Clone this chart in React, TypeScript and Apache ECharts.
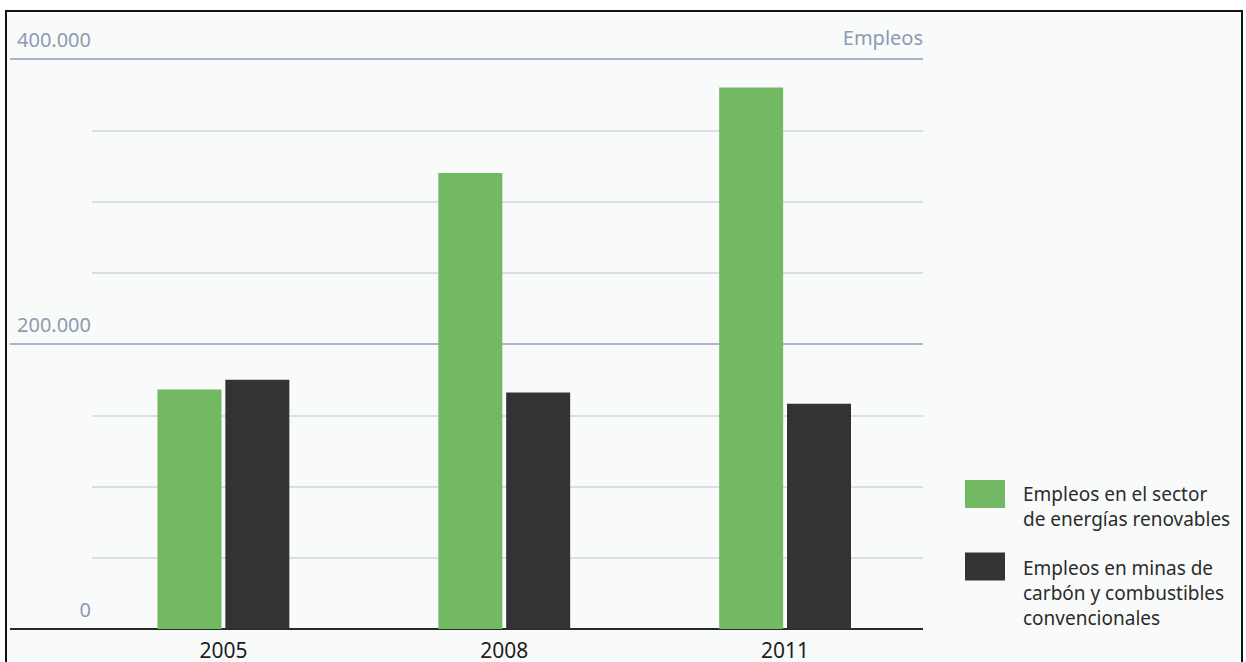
import React, { useEffect, useRef } from "react";
import * as echarts from "echarts";

const categories = ["2005", "2008", "2011"];
const renewableName = "Empleos en el sector\nde energías renovables";
const conventionalName = "Empleos en minas de\ncarbón y combustibles\nconvencionales";
const renewableJobs = [168000, 320000, 380000];
const conventionalJobs = [175000, 166000, 158000];
const yMin = 0;
const yMax = 400000;
const majorInterval = 200000;
const minorInterval = 50000;
const unitLabel = "Empleos";

const FONT = "'Noto Sans', 'Open Sans', sans-serif";

function fmt(v: number): string {
  return String(v).replace(/\B(?=(\d{3})+(?!\d))/g, ".");
}

function legendText(name: string, spacer: string): string {
  return "{" + spacer + "| }\n" + name.split("\n").map((l) => "{t|" + l + "}").join("\n");
}

const legendRich = {
  t: { fontSize: 19, lineHeight: 25, color: "#2b2b2b", fontFamily: FONT, padding: [0, 0, 0, 13] },
  s1: { fontSize: 10, lineHeight: 24 },
  s2: { fontSize: 10, lineHeight: 53 },
};

export default function App() {
  const ref = useRef<HTMLDivElement>(null);
  useEffect(() => {
    if (!ref.current) return;
    const chart = echarts.init(ref.current, null, { renderer: "svg" });
    const minorCount = (yMax - yMin) / minorInterval + 1;
    const minorColors: string[] = [];
    for (let i = 0; i < minorCount; i++) {
      const v = yMin + i * minorInterval;
      minorColors.push(v % majorInterval === 0 ? "rgba(0,0,0,0)" : "#cdd6e1");
    }
    const majorColors = ["#2a2a2a", "#a7b6ca", "#a7b6ca"];
    chart.setOption({
      animation: false,
      backgroundColor: "transparent",
      textStyle: { fontFamily: FONT },
      title: {
        text: unitLabel,
        right: 323,
        top: 25,
        padding: 0,
        textStyle: { fontSize: 20, fontWeight: "normal", color: "#8c9bb0", fontFamily: FONT, lineHeight: 24 },
      },
      grid: [
        { left: 83, right: 320.5, top: 59, bottom: 33 },
        { left: 10, right: 323, top: 59, bottom: 33 },
        { left: 92, right: 323, top: 59, bottom: 33 },
      ],
      xAxis: [
        {
          gridIndex: 0,
          type: "category",
          data: categories,
          axisLine: { show: false },
          axisTick: { show: false },
          axisLabel: { fontSize: 21, lineHeight: 21, color: "#1e1e1e", margin: 10, fontFamily: FONT },
        },
        { gridIndex: 1, type: "value", show: false, min: 0, max: 1 },
        { gridIndex: 2, type: "value", show: false, min: 0, max: 1 },
      ],
      yAxis: [
        { gridIndex: 0, type: "value", min: yMin, max: yMax, show: false },
        {
          gridIndex: 1,
          type: "value",
          min: yMin,
          max: yMax,
          interval: majorInterval,
          z: 1,
          axisLine: { show: false },
          axisTick: { show: false },
          splitLine: { show: true, lineStyle: { color: majorColors, width: 2 } },
          axisLabel: {
            inside: true,
            align: "right",
            margin: 81,
            verticalAlign: "bottom",
            lineHeight: 24,
            padding: [0, 0, 8, 0],
            fontSize: 20,
            color: "#8c9bb0",
            fontFamily: FONT,
            formatter: (v: number) => fmt(v),
          },
        },
        {
          gridIndex: 2,
          type: "value",
          min: yMin,
          max: yMax,
          interval: minorInterval,
          z: 0,
          axisLine: { show: false },
          axisTick: { show: false },
          axisLabel: { show: false },
          splitLine: { show: true, lineStyle: { color: minorColors, width: 1.5 } },
        },
      ],
      legend: [
        {
          data: [renewableName],
          orient: "vertical",
          left: 965,
          top: 464,
          padding: 0,
          itemWidth: 40,
          itemHeight: 28,
          icon: "rect",
          selectedMode: false,
          formatter: (name: string) => legendText(name, "s1"),
          textStyle: { fontFamily: FONT, rich: legendRich },
        },
        {
          data: [conventionalName],
          orient: "vertical",
          left: 965,
          top: 524,
          padding: 0,
          itemWidth: 40,
          itemHeight: 28,
          icon: "rect",
          selectedMode: false,
          formatter: (name: string) => legendText(name, "s2"),
          textStyle: { fontFamily: FONT, rich: legendRich },
        },
      ],
      series: [
        {
          name: renewableName,
          type: "bar",
          xAxisIndex: 0,
          yAxisIndex: 0,
          data: renewableJobs,
          barWidth: 64,
          barGap: "6%",
          itemStyle: { color: "#73b963" },
          z: 3,
        },
        {
          name: conventionalName,
          type: "bar",
          xAxisIndex: 0,
          yAxisIndex: 0,
          data: conventionalJobs,
          barWidth: 64,
          barGap: "6%",
          itemStyle: { color: "#333333" },
          z: 3,
        },
      ],
    });
    return () => chart.dispose();
  }, []);

  return (
    <div style={{ position: "fixed", left: 0, top: 0, width: 1246, height: 662, background: "#ffffff", overflow: "hidden" }}>
      <div
        style={{
          position: "absolute",
          left: 5,
          top: 10,
          width: 1234,
          height: 660,
          border: "2px solid #111",
          background: "#f9fbfb",
        }}
      />
      <div ref={ref} style={{ position: "absolute", left: 0, top: 0, width: 1246, height: 662 }} />
    </div>
  );
}
